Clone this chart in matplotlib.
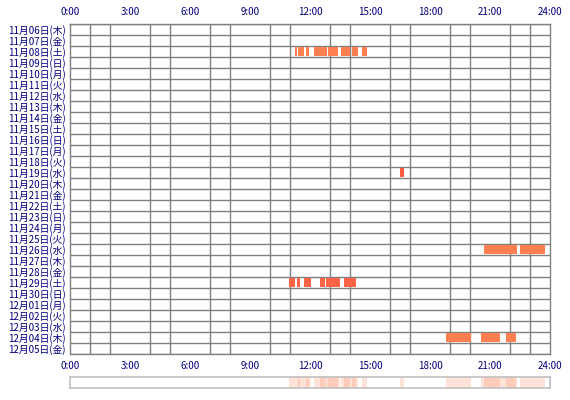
import matplotlib.pyplot as plt
import numpy as np

plt.rcParams['font.family'] = ['Noto Sans CJK JP', 'DejaVu Sans']

days = ["11月06日(木)", "11月07日(金)", "11月08日(土)", "11月09日(日)", "11月10日(月)",
        "11月11日(火)", "11月12日(水)", "11月13日(木)", "11月14日(金)", "11月15日(土)",
        "11月16日(日)", "11月17日(月)", "11月18日(火)", "11月19日(水)", "11月20日(木)",
        "11月21日(金)", "11月22日(土)", "11月23日(日)", "11月24日(月)", "11月25日(火)",
        "11月26日(水)", "11月27日(木)", "11月28日(金)", "11月29日(土)", "11月30日(日)",
        "12月01日(月)", "12月02日(火)", "12月03日(水)", "12月04日(木)", "12月05日(金)"]

hour_ticks = [0, 3, 6, 9, 12, 15, 18, 21, 24]
hour_labels = ["0:00", "3:00", "6:00", "9:00", "12:00", "15:00", "18:00", "21:00", "24:00"]

# active sessions (start hour, end hour) per day
nov08 = [(11.25, 11.33), (11.38, 11.70), (11.80, 11.97), (12.22, 12.87),
         (12.92, 13.42), (13.55, 14.00), (14.08, 14.38), (14.62, 14.83)]
nov19 = [(16.50, 16.70)]
nov26 = [(20.70, 22.37), (22.50, 23.75)]
nov29 = [(10.97, 11.25), (11.33, 11.50), (11.70, 12.03), (12.50, 12.75),
         (12.80, 13.50), (13.70, 14.30)]
dec04 = [(18.80, 20.03), (20.55, 21.50), (21.80, 22.30)]

sessions = {
    "11月08日(土)": (nov08, "#ff7f50"),
    "11月19日(水)": (nov19, "#ff5a40"),
    "11月26日(水)": (nov26, "#ff7f50"),
    "11月29日(土)": (nov29, "#ff6347"),
    "12月04日(木)": (dec04, "#ff7f50"),
}

navy = "#000080"
gray = "#808080"

fig = plt.figure(figsize=(5.7, 4), dpi=100)
ax = fig.add_axes([70 / 570, 46 / 400, 480 / 570, 330 / 400])

for day, (segs, color) in sessions.items():
    row = days.index(day)
    for start, end in segs:
        ax.barh(row, end - start, left=start, height=0.8, color=color, zorder=3)

ax.set_xlim(0, 24)
ax.set_ylim(len(days) - 0.5, -0.5)
ax.set_xticks(hour_ticks)
ax.set_xticklabels(hour_labels)
ax.set_xticks(np.arange(25), minor=True)
ax.set_yticks(range(len(days)))
ax.set_yticklabels(days)
ax.set_yticks(np.arange(len(days) + 1) - 0.5, minor=True)
ax.grid(which="minor", color=gray, linewidth=1.0, zorder=1)
ax.tick_params(which="both", length=0)
ax.tick_params(axis="x", top=True, labeltop=True, labelsize=7, colors=navy, pad=5)
ax.tick_params(axis="y", labelsize=7, colors=navy, pad=3)
for s in ax.spines.values():
    s.set_color(gray)
    s.set_linewidth(1.0)

# summary strip below the chart
ax2 = fig.add_axes([70 / 570, 12 / 400, 480 / 570, 11 / 400])
for day, (segs, color) in sessions.items():
    for start, end in segs:
        ax2.axvspan(start, end, color="#ff7f50", alpha=0.22, linewidth=0)
ax2.set_xlim(0, 24)
ax2.set_xticks([])
ax2.set_yticks([])
for s in ax2.spines.values():
    s.set_color("#c0c0c0")
    s.set_linewidth(1.2)

fig.savefig("out.png", dpi=100)
